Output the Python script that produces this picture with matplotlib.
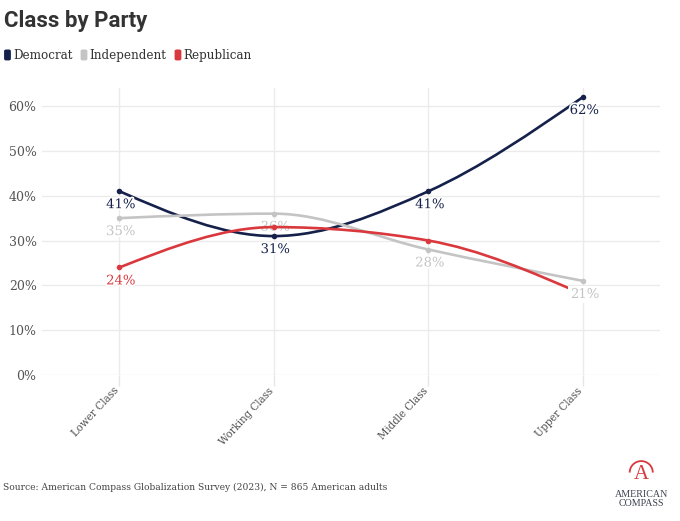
import numpy as np
import matplotlib.pyplot as plt
from matplotlib.path import Path
from matplotlib.patches import PathPatch, FancyBboxPatch, Arc
from matplotlib.transforms import ScaledTranslation
import matplotlib.patheffects as pe

categories = ["Lower Class", "Working Class", "Middle Class", "Upper Class"]
democrat = [41, 31, 41, 62]
independent = [35, 36, 28, 21]
republican = [24, 33, 30, 18]
yticks = [0, 10, 20, 30, 40, 50, 60]

series = [
    ("Democrat", democrat, "#15214a"),
    ("Independent", independent, "#c4c4c4"),
    ("Republican", republican, "#d9383d"),
]

# which value labels show (the rest are hidden behind others in the original)
shown = {
    "Democrat": [True, True, True, True],
    "Independent": [True, True, True, True],
    "Republican": [True, False, False, False],
}

SERIF = "DejaVu Serif"


def monotone_path(x, y):
    # monotone cubic curve (like d3 curveMonotoneX) built as a bezier path
    x = np.asarray(x, float)
    y = np.asarray(y, float)
    n = len(x)
    h = np.diff(x)
    s = np.diff(y) / h
    m = np.zeros(n)
    for i in range(1, n - 1):
        p = (s[i - 1] * h[i] + s[i] * h[i - 1]) / (h[i - 1] + h[i])
        m[i] = (np.sign(s[i - 1]) + np.sign(s[i])) * min(abs(s[i - 1]), abs(s[i]), 0.5 * abs(p))
    m[0] = (3 * s[0] - m[1]) / 2
    m[-1] = (3 * s[-1] - m[-2]) / 2
    verts = [(x[0], y[0])]
    codes = [Path.MOVETO]
    for i in range(n - 1):
        d = h[i] / 3
        verts += [(x[i] + d, y[i] + m[i] * d), (x[i + 1] - d, y[i + 1] - m[i + 1] * d), (x[i + 1], y[i + 1])]
        codes += [Path.CURVE4] * 3
    return Path(verts, codes)


fig = plt.figure(figsize=(6.8, 5.21), dpi=100)
ax = fig.add_axes([0.062, 0.28, 0.909, 0.551])

xs = np.arange(len(categories))
for name, vals, col in series:
    ax.add_patch(PathPatch(monotone_path(xs, vals), facecolor="none", edgecolor=col, lw=1.9, zorder=3))
    ax.scatter(xs, vals, s=16, color=col, zorder=4, linewidths=0)

# value labels
halo = [pe.withStroke(linewidth=2.5, foreground="white")]
for name, vals, col in series:
    for xi, v in zip(xs, vals):
        if not shown[name][xi]:
            continue
        z = 5
        box = None
        if name == "Independent" and xi == 1:
            z = 2.5  # sits under the red line in the original
        if name == "Independent" and xi == 3:
            box = dict(boxstyle="square,pad=0.15", fc="white", ec="none")
        t = ax.annotate(f"{v}%", (xi, v), xytext=(1, -5), textcoords="offset points",
                        ha="center", va="top", fontsize=9.5, color=col, family=SERIF, zorder=z,
                        bbox=box)
        if box is None:
            t.set_path_effects(halo)

ax.set_xlim(-0.5, 3.5)
ax.set_ylim(0, 64)
ax.set_yticks(yticks)
ax.set_yticklabels([f"{t}%" for t in yticks], family=SERIF, fontsize=9, color="#555555")
ax.set_xticks(xs)
ax.set_xticklabels(categories, rotation=47, ha="right", rotation_mode="anchor",
                   family=SERIF, fontstretch="condensed", fontsize=8.2, color="#4d4d4d")
ax.tick_params(axis="y", length=0, pad=4)
ax.tick_params(axis="x", length=8, color="#e6e6e6", width=1, pad=1)
# nudge rotated labels so they end just left of the tick
shift = ScaledTranslation(-6 / 100, 2 / 100, fig.dpi_scale_trans)
for lab in ax.get_xticklabels():
    lab.set_transform(lab.get_transform() + shift)
ax.grid(True, color="#ebebeb", lw=1)
ax.set_axisbelow(True)
for sp in ax.spines.values():
    sp.set_visible(False)

# title + legend
fig.text(0.006, 0.96, "Class by Party", family="Roboto", weight="bold", fontsize=16,
         color="#333333", va="center")
lx = 0.006
for name, vals, col in series:
    fig.patches.append(FancyBboxPatch((lx, 0.884), 0.010, 0.021,
                                      boxstyle="round,pad=0,rounding_size=0.003",
                                      transform=fig.transFigure, fc=col, ec="none"))
    t = fig.text(lx + 0.013, 0.894, name, family=SERIF, fontsize=8.6, color="#333333", va="center")
    fig.canvas.draw()
    bb = t.get_window_extent()
    lx = bb.x1 / fig.bbox.width + 0.012

fig.text(0.005, 0.065, "Source: American Compass Globalization Survey (2023), N = 865 American adults",
         family=SERIF, fontsize=6.6, color="#444444", va="center")

# logo
red = "#d9383d"
fig.text(0.943, 0.09, "A", family="Liberation Serif", fontsize=15, color=red, ha="center", va="center")
fig.patches.append(Arc((0.943, 0.093), 0.034, 0.044, theta1=0, theta2=180, transform=fig.transFigure,
                       color=red, lw=1.3))
fig.text(0.943, 0.042, "AMERICAN\nCOMPASS", family="Liberation Serif", fontsize=7.2, color="#3d4250",
         ha="center", va="center", linespacing=1.05)

fig.savefig("out.png", dpi=100, facecolor="white")
